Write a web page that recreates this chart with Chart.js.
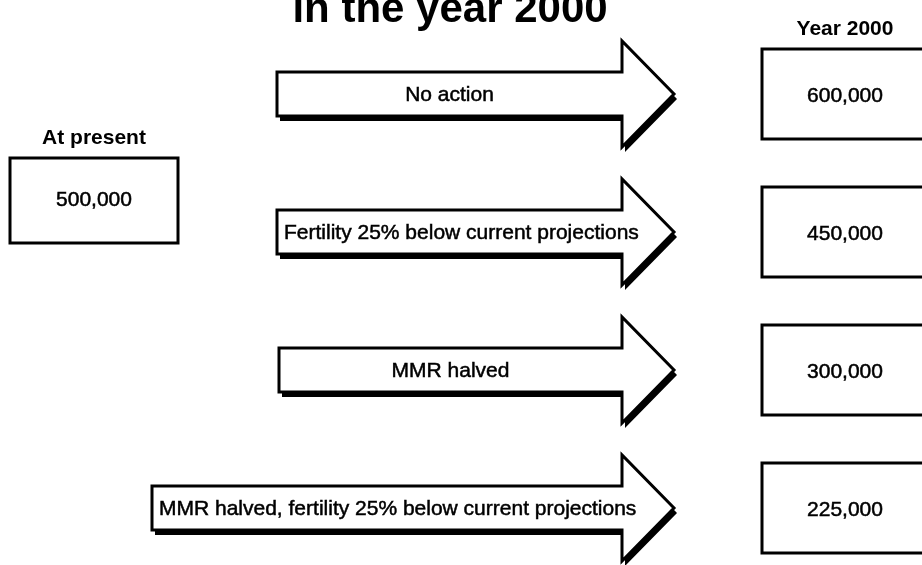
<!DOCTYPE html>
<html lang="en">
<head>
<meta charset="UTF-8">
<title>in the year 2000</title>
<script src="https://cdn.jsdelivr.net/npm/chart.js"></script>
<style>
  html, body { margin: 0; padding: 0; background: #fff; }
  #flow { display: block; }
</style>
</head>
<body>
<canvas id="flow" width="922" height="565"></canvas>
<script>
// chart data
const titleText = 'in the year 2000';
const presentLabel = 'At present';
const presentValue = 500000;
const futureLabel = 'Year 2000';
const scenarios = [
    'No action',
    'Fertility 25% below current projections',
    'MMR halved',
    'MMR halved, fertility 25% below current projections'
];
const projected = [600000, 450000, 300000, 225000];

// layout, in canvas units of the hidden x/y scales
const rowFirst = 94, rowStep = 138;
const arrowStart = [277, 277, 279, 152];
const neckX = 622, tipX = 674, bodyHalf = 22, headHalf = 53;
const outLeft = 762, outRight = 926, outHalf = 45;
const inBox = { left: 10, right: 178, top: 158, bottom: 243 };
const font = 'Liberation Sans, Arial, Helvetica, sans-serif';

const fmt = v => v.toLocaleString('en-US');
const rowY = i => rowFirst + i * rowStep;

// scanned print looks a bit heavier than plain text
function inkText(c, s, x, y) {
    c.fillText(s, x, y);
    c.lineWidth = 0.5;
    c.strokeText(s, x, y);
}

const diagram = {
    id: 'diagram',
    afterDatasetsDraw(chart) {
        const c = chart.ctx;
        const X = v => chart.scales.x.getPixelForValue(v);
        const Y = v => chart.scales.y.getPixelForValue(v);
        c.save();
        c.lineJoin = 'miter';
        c.textAlign = 'center';
        c.textBaseline = 'middle';
        c.fillStyle = '#000';
        c.strokeStyle = '#000';

        // title (top line is cut off in the source)
        c.font = 'bold 42px ' + font;
        c.textBaseline = 'alphabetic';
        c.fillText(titleText, X(450), Y(22));
        c.textBaseline = 'middle';

        // present box
        c.font = 'bold 21px ' + font;
        c.fillText(presentLabel, X((inBox.left + inBox.right) / 2), Y(inBox.top - 20));
        c.lineWidth = 3;
        c.strokeRect(X(inBox.left), Y(inBox.top), X(inBox.right) - X(inBox.left), Y(inBox.bottom) - Y(inBox.top));
        c.font = '21px ' + font;
        inkText(c, fmt(presentValue), X((inBox.left + inBox.right) / 2), Y((inBox.top + inBox.bottom) / 2));

        // future heading
        c.font = 'bold 21px ' + font;
        c.fillText(futureLabel, X(845), Y(rowY(0) - outHalf - 20));

        scenarios.forEach((label, i) => {
            const cy = rowY(i);
            const pts = [
                [arrowStart[i], cy - bodyHalf], [neckX, cy - bodyHalf], [neckX, cy - headHalf],
                [tipX, cy], [neckX, cy + headHalf], [neckX, cy + bodyHalf], [arrowStart[i], cy + bodyHalf]
            ];
            const path = (dx, dy) => {
                c.beginPath();
                pts.forEach(([px, py], k) => {
                    if (k === 0) c.moveTo(X(px + dx), Y(py + dy));
                    else c.lineTo(X(px + dx), Y(py + dy));
                });
                c.closePath();
            };
            // drop shadow
            path(3, 5);
            c.fillStyle = '#000';
            c.fill();
            path(0, 0);
            c.fillStyle = '#fff';
            c.fill();
            c.lineWidth = 3;
            c.stroke();

            // arrow text
            c.fillStyle = '#000';
            c.font = '21px ' + font;
            const w = c.measureText(label).width;
            const bodyW = neckX - arrowStart[i];
            if (w < bodyW - 20) {
                c.textAlign = 'center';
                inkText(c, label, X(arrowStart[i] + bodyW / 2), Y(cy + 1));
            } else {
                c.textAlign = 'left';
                inkText(c, label, X(arrowStart[i] + 7), Y(cy + 1));
            }
            c.textAlign = 'center';

            // result box
            c.lineWidth = 3;
            c.strokeRect(X(outLeft), Y(cy - outHalf), X(outRight) - X(outLeft), 2 * outHalf);
            c.font = '21px ' + font;
            inkText(c, fmt(projected[i]), X(845), Y(cy + 2));
        });
        c.restore();
    }
};

new Chart(document.getElementById('flow').getContext('2d'), {
    type: 'scatter',
    data: { datasets: [{ data: [], pointRadius: 0 }] },
    options: {
        responsive: false,
        animation: false,
        layout: { padding: 0 },
        plugins: {
            legend: { display: false },
            tooltip: { enabled: false }
        },
        scales: {
            x: { type: 'linear', min: 0, max: 922, display: false },
            y: { type: 'linear', min: 0, max: 565, reverse: true, display: false }
        }
    },
    plugins: [diagram]
});
</script>
</body>
</html>
